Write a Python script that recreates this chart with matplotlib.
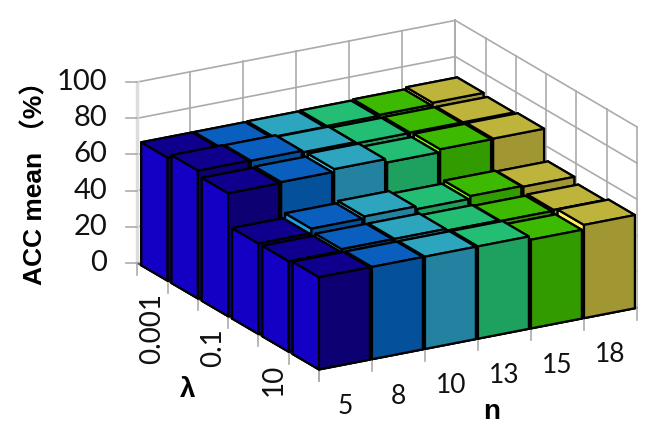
import matplotlib

matplotlib.use("Agg")
import matplotlib.pyplot as plt
from mpl_toolkits.mplot3d import proj3d

n_labels = ["5", "8", "10", "13", "15", "18"]
lambda_labels = ["0.001", "", "0.1", "", "10", ""]  # back to front
z_ticks = [0, 20, 40, 60, 80, 100]

# rows run from the back (lambda=0.001) to the front (lambda=100)
acc_001 = [68.0, 68.0, 68.2, 68.5, 69.0, 70.0]
acc_01 = [70.7, 70.5, 69.6, 68.8, 69.0, 69.0]
acc_1e_1 = [68.0, 68.5, 70.0, 68.0, 69.6, 69.8]
acc_1 = [50.0, 52.5, 53.6, 52.0, 53.5, 53.0]
acc_10 = [50.0, 51.0, 51.0, 50.0, 49.5, 50.0]
acc_100 = [51.0, 51.0, 51.0, 51.0, 49.0, 51.5]
acc_rows = [acc_001, acc_01, acc_1e_1, acc_1, acc_10, acc_100]

top_colors = ["#0E008C", "#0A5FBE", "#2DA5BE", "#23BE73", "#3CB900", "#BEB43C"]
front_colors = ["#0D0072", "#05509B", "#2382A0", "#1EA05F", "#329B00", "#A09632"]
side_colors = ["#1400C4", "#1EA0E6", "#37C8E6", "#28DC8C", "#78FF00", "#FFF05A"]

W, H = 653, 443
BAR_W = 0.96
BAR_D = 0.87
GRID = "#ABABAB"

fig = plt.figure(figsize=(W / 100, H / 100), dpi=100)
ax_h = 1.7
ax = fig.add_axes([0, 0, ax_h * H / W, ax_h], projection="3d", proj_type="ortho")
ax.view_init(elev=19.7, azim=-119.9)
ax.computed_zorder = False
ax.set_xlim(0, 6)
ax.set_ylim(0, 6)
ax.set_zlim(0, 100)
ax.set_axis_off()
aspect = (366.8, 364.4, 192.2)
ax.set_box_aspect(aspect, zoom=1.0)


def project(x, y, z):
    xs, ys, _ = proj3d.proj_transform(x, y, z, ax.get_proj())
    px, py = ax.transData.transform((xs, ys))
    return px, H - py


# fit the box to the reference: front corner and width of the floor
fig.canvas.draw()
x0, _ = project(0, 0, 0)
x1, _ = project(6, 0, 0)
ax.set_box_aspect(aspect, zoom=318.0 / (x1 - x0))
fig.canvas.draw()
fx, fy = project(0, 0, 0)
pos = ax.get_position()
ax.set_position(
    [pos.x0 + (319 - fx) / W, pos.y0 - (369.5 - fy) / H, pos.width, pos.height]
)
fig.canvas.draw()

# walls
for i in range(7):
    ax.plot([i, i], [6, 6], [0, 100], color=GRID, lw=1.2, zorder=1)
    ax.plot([6, 6], [i, i], [0, 100], color=GRID, lw=1.2, zorder=1)
    ax.plot([i, i], [0, 6], [0, 0], color=GRID, lw=1.0, zorder=1)
    ax.plot([0, 6], [i, i], [0, 0], color=GRID, lw=1.0, zorder=1)
for z in z_ticks:
    ax.plot([0, 6], [6, 6], [z, z], color=GRID, lw=1.2, zorder=1)
    ax.plot([6, 6], [0, 6], [z, z], color=GRID, lw=1.2, zorder=1)
ax.plot([0, 0], [6, 6], [0, 100], color="#DDDDDD", lw=2.5, zorder=1)

# floor edge and tick marks
ax.plot([0, 6], [0, 0], [0, 0], color="#444444", lw=1.3, zorder=2)
ax.plot([0, 0], [0, 6], [0, 0], color="#444444", lw=1.3, zorder=2)
for i in range(7):
    ax.plot([i, i], [0, 0], [0, -6.5], color=GRID, lw=1.2, zorder=2)
    ax.plot([0, 0], [i, i], [0, -6.5], color=GRID, lw=1.2, zorder=2)

# bars, painted back to front
order = 10
for r, row in enumerate(acc_rows):
    y = 5 - r
    for c in range(5, -1, -1):
        # faces of bar3d: bottom, top, -y, +y, -x, +x
        faces = [
            front_colors[c],
            top_colors[c],
            front_colors[c],
            front_colors[c],
            side_colors[c],
            side_colors[c],
        ]
        ax.bar3d(
            c, y, 0, BAR_W, BAR_D, row[c],
            color=faces, shade=False, edgecolor="black", linewidth=1.6, zorder=order,
        )
        order += 1

# text and z ticks go on a flat overlay in pixel coordinates
over = fig.add_axes([0, 0, 1, 1])
over.set_xlim(0, W)
over.set_ylim(H, 0)
over.axis("off")
over.patch.set_visible(False)
fam = ["Lato", "Noto Sans", "Noto Sans CJK SC", "DejaVu Sans"]
bold_fam = ["Liberation Sans", "Noto Sans CJK SC", "DejaVu Sans"]

for z in z_ticks:
    px, py = project(0, 6, z)
    over.plot([px - 11, px], [py, py], color=GRID, lw=1.2)
    over.text(px - 30, py, str(z), ha="right", va="center", fontsize=21, family=fam, color="#111111")

for i, label in enumerate(n_labels):
    px, py = project(i + 0.5, 0, 0)
    over.text(px, py + 42, label, ha="center", va="center", fontsize=19, family=fam, color="#111111")

for i, label in enumerate(lambda_labels):
    px, py = project(0, 5.5 - i, 0)
    over.text(px, py + 21, label, ha="center", va="top", rotation=90, fontsize=20, family=fam, color="#111111")

over.text(35, 177, "ACC mean （%）", ha="center", va="center", rotation=90,
          fontsize=19, fontweight="bold", family=bold_fam)
over.text(188, 390, "λ", ha="center", va="center", fontsize=20, fontweight="bold", family=bold_fam)
over.text(492, 412, "n", ha="center", va="center", fontsize=20, fontweight="bold", family=bold_fam)

fig.savefig("out.png", dpi=100)
